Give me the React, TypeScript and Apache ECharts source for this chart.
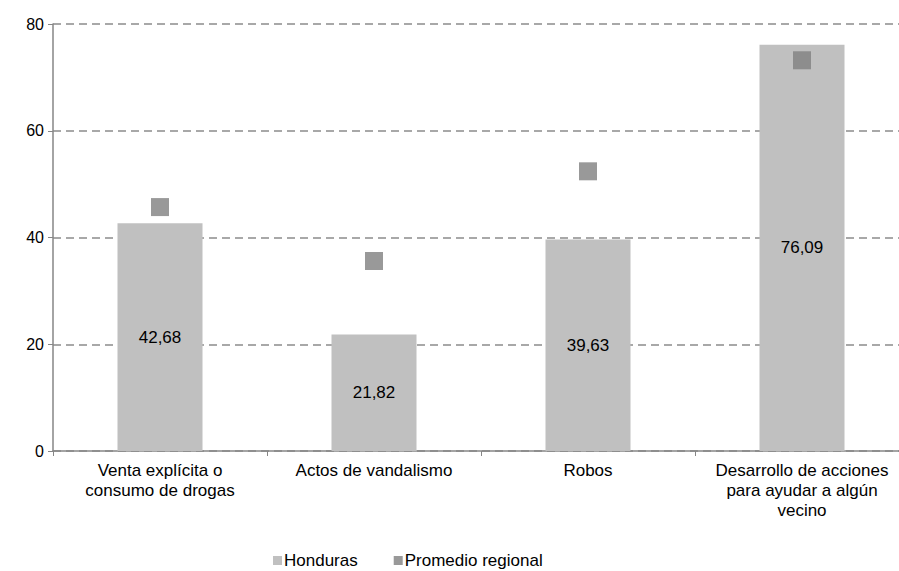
import React, { useEffect, useRef } from "react";
import * as echarts from "echarts";

const categories = [
  "Venta explícita o\nconsumo de drogas",
  "Actos de vandalismo",
  "Robos",
  "Desarrollo de acciones\npara ayudar a algún\nvecino",
];
const honduras = [42.68, 21.82, 39.63, 76.09];
const promedioRegional = [45.7, 35.6, 52.4, 73.2];
const yTicks = [0, 20, 40, 60, 80];

const FONT = "'Liberation Sans', Arial, sans-serif";

export default function App() {
  const ref = useRef<HTMLDivElement>(null);
  useEffect(() => {
    if (!ref.current) return;
    const chart = echarts.init(ref.current, undefined, { renderer: "svg" });
    chart.setOption({
      animation: false,
      backgroundColor: "#ffffff",
      textStyle: { fontFamily: FONT },
      grid: { left: 53, right: 0, top: 24, bottom: 120, containLabel: false },
      legend: {
        left: 273,
        top: 552,
        padding: 0,
        itemWidth: 9,
        itemHeight: 9,
        itemGap: 36,
        textStyle: { fontFamily: FONT, fontSize: 17, color: "#000", padding: [0, 0, 0, -3] },
        data: [
          { name: "Honduras", icon: "rect" },
          { name: "Promedio regional", icon: "rect" },
        ],
      },
      xAxis: {
        type: "category",
        data: categories,
        axisLine: { lineStyle: { color: "#868686", width: 1.5 } },
        axisTick: { show: true, length: 5, lineStyle: { color: "#868686" } },
        axisLabel: {
          color: "#000",
          fontFamily: FONT,
          fontSize: 17,
          lineHeight: 20,
          margin: 9,
          interval: 0,
        },
      },
      yAxis: {
        type: "value",
        min: yTicks[0],
        max: yTicks[yTicks.length - 1],
        interval: 20,
        axisLine: { show: true, lineStyle: { color: "#868686", width: 1.5 } },
        axisTick: { show: true, length: 5, lineStyle: { color: "#868686" } },
        axisLabel: { color: "#000", fontFamily: FONT, fontSize: 16, margin: 9 },
        splitLine: {
          show: true,
          lineStyle: { color: "#8c8c8c", width: 1.5, type: [8, 5] },
        },
      },
      series: [
        {
          name: "Honduras",
          type: "bar",
          data: honduras,
          barWidth: 85,
          itemStyle: { color: "#c0c0c0" },
          label: {
            show: true,
            position: "inside",
            color: "#000",
            fontFamily: FONT,
            fontSize: 17,
            formatter: (p: any) => String(p.value.toFixed(2)).replace(".", ","),
          },
        },
        {
          name: "Promedio regional",
          type: "scatter",
          data: promedioRegional,
          symbol: "rect",
          symbolSize: 18,
          itemStyle: { color: "#808080" },
        },
      ],
    });
    return () => chart.dispose();
  }, []);
  return (
    <div
      style={{
        position: "fixed",
        left: 0,
        top: 0,
        width: 899,
        height: 571,
        overflow: "hidden",
        background: "#fff",
      }}
    >
      <div ref={ref} style={{ width: 909, height: 571 }} />
    </div>
  );
}
